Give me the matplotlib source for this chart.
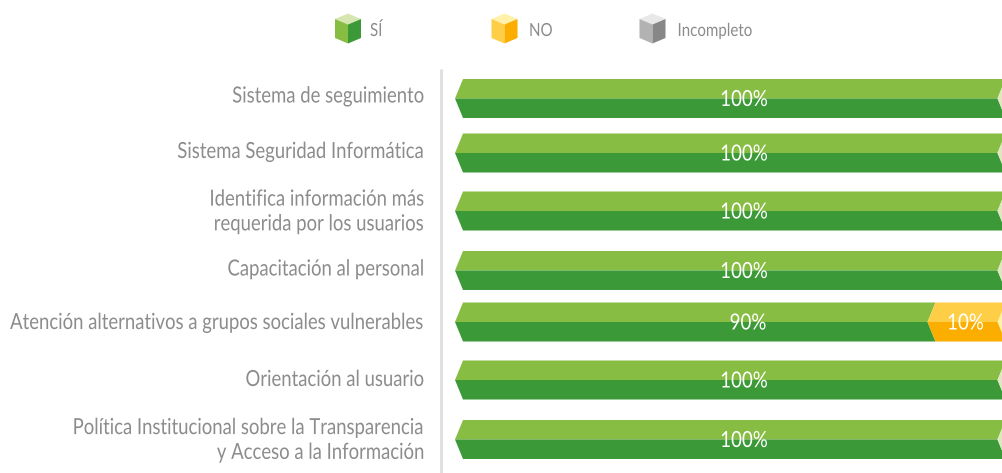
import numpy as np
import matplotlib
matplotlib.use("Agg")
import matplotlib.pyplot as plt
from matplotlib.patches import Polygon
from matplotlib.patheffects import AbstractPathEffect
from matplotlib.transforms import Affine2D

W, H = 1002, 473
categories = ["Sistema de seguimiento", "Sistema Seguridad Informática",
              "Identifica información más\nrequerida por los usuarios",
              "Capacitación al personal",
              "Atención alternativos a grupos sociales vulnerables",
              "Orientación al usuario",
              "Política Institucional sobre la Transparencia\ny Acceso a la Información"]
si_values = [100, 100, 100, 100, 90, 100, 100]
no_values = [0, 0, 0, 0, 10, 0, 0]
si_drawn = [100, 100, 100, 100, 87.1, 100, 100]
no_drawn = [0, 0, 0, 0, 12.9, 0, 0]
legend_labels = ["SÍ", "NO", "Incompleto"]

row_y = [98.5, 153, 211, 270.5, 322, 380, 439.5]
label_y = [96.5, 152, 212, 269.5, 323, 380, 440.5]
X0, X1 = 455, 997.5
k = (X1 - X0) / 100
HALF = 19.5
NOTCH = 8.0
FONT = ["Lato", "DejaVu Sans"]
TEXT = "#8c8c8c"


class Squeeze(AbstractPathEffect):
    """Narrow the glyphs horizontally about a fixed pixel column."""
    def __init__(self, anchor_px, sx):
        super().__init__()
        self.a, self.s = anchor_px, sx

    def draw_path(self, renderer, gc, tpath, affine, rgbFace=None):
        m = affine + Affine2D().translate(-self.a, 0).scale(self.s, 1).translate(self.a, 0)
        renderer.draw_path(gc, tpath, m, rgbFace)


fig = plt.figure(figsize=(W / 100, H / 100), dpi=100, facecolor="white")
ax = fig.add_axes([0, 0, 1, 1])
ax.set_xlim(-X0 / k, (W - X0) / k)
ax.set_ylim(H, 0)
ax.axis("off")
n = NOTCH / k


def px(x):
    return (x - X0) / k


def label(x_px, y, s, ha, color, size, sx, **kw):
    t = ax.text(px(x_px), y, s, ha=ha, va="center", color=color, family=FONT, fontsize=size, **kw)
    t.set_path_effects([Squeeze(x_px, sx)])
    return t


def right_label(x_px, y, s, color, size, sx, **kw):
    """Right-aligned squeezed text; anchored at its squeezed left end if its unsqueezed width would pass the figure edge."""
    t = label(x_px, y, s, "right", color, size, sx, multialignment="right", **kw)
    w = t.get_window_extent(fig.canvas.get_renderer()).width
    if w > x_px:
        left = x_px - w * sx
        t.set_ha("left")
        t.set_x(px(left))
        t.set_path_effects([Squeeze(left, sx)])
    return t


def chevron(start, end, y, light, dark):
    ax.add_patch(Polygon([(start, y), (start + n, y - HALF), (end + n, y - HALF), (end, y)],
                         closed=True, fc=light, ec="none"))
    ax.add_patch(Polygon([(start, y), (start + n, y + HALF), (end + n, y + HALF), (end, y)],
                         closed=True, fc=dark, ec="none"))


ax.plot([px(441)] * 2, [69, 473], color="#e0e0e0", lw=2.2, solid_capstyle="butt")

for cat, y, ly, sv, nv, sd, nd in zip(categories, row_y, label_y, si_values, no_values, si_drawn, no_drawn):
    chevron(0, sd, y, "#88bd44", "#3b9938")
    ax.add_patch(Polygon([(100, y), (100 + n, y - HALF), (100 + n, y + HALF)], closed=True,
                         fc="#fff2a8" if nd else "#dfe6c0", ec="none"))
    if nd:
        chevron(sd, sd + nd, y, "#fece47", "#fbae00")
for cat, y, ly, sv, nv, sd, nd in zip(categories, row_y, label_y, si_values, no_values, si_drawn, no_drawn):
    right_label(425, ly, cat, TEXT, 16, 0.833, linespacing=1.3)
    label(748 if nd else 744, y + 1.5, f"{sv}%", "center", "white", 16, 0.843)
    if nd:
        label(965.5, y + 1.5, f"{nv}%", "center", "white", 16, 0.843)


def cube(cx, cy, top, left, right):
    hw, hh = 13 / k, 15
    s = 5.5
    ax.add_patch(Polygon([(cx - hw, cy - hh + s), (cx, cy - hh), (cx + hw, cy - hh + s), (cx, cy - hh + 2 * s)], fc=top, ec="none"))
    ax.add_patch(Polygon([(cx - hw, cy - hh + s), (cx, cy - hh + 2 * s), (cx, cy + hh), (cx - hw, cy + hh - s)], fc=left, ec="none"))
    ax.add_patch(Polygon([(cx + hw, cy - hh + s), (cx, cy - hh + 2 * s), (cx, cy + hh), (cx + hw, cy + hh - s)], fc=right, ec="none"))


cube_x = [348, 504.5, 652.5]
label_x = [370, 529, 677.5]
cols = [("#d7e6b0", "#88bd44", "#3b9938"), ("#fff2a8", "#fece47", "#fbae00"), ("#e8e8e8", "#b2b2b2", "#878787")]
for lab, cx, lx, c in zip(legend_labels, cube_x, label_x, cols):
    cube(px(cx), 28.5, *c)
    label(lx, 31, lab, "left", TEXT, 13, 0.836)

fig.savefig("out.png", dpi=100, facecolor="white")
